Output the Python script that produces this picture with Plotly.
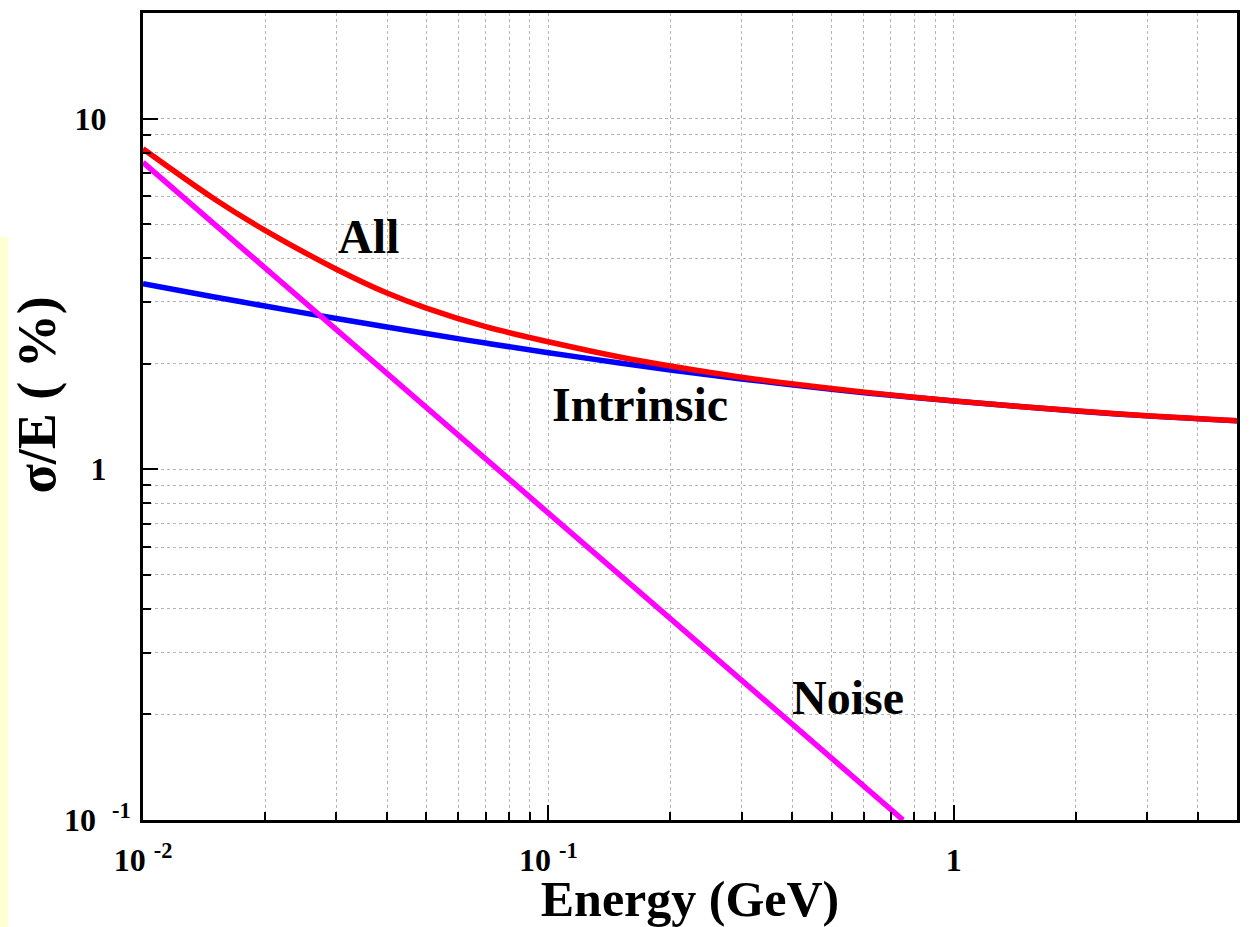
import math
import plotly.graph_objects as go

# Energy sample points (GeV)
energy = [0.01, 0.015, 0.02, 0.03, 0.04, 0.05, 0.07, 0.1, 0.15, 0.2, 0.3, 0.5, 0.7, 1.0, 2.0, 3.0, 5.0]
# sigma/E (%)
intrinsic = [3.38, 3.10, 2.92, 2.69, 2.545, 2.44, 2.29, 2.15, 2.01, 1.92, 1.81, 1.69, 1.625, 1.565, 1.467, 1.42, 1.375]
all_terms = [8.2, 5.9, 4.8, 3.72, 3.18, 2.88, 2.55, 2.31, 2.09, 1.97, 1.83, 1.70, 1.63, 1.567, 1.468, 1.421, 1.375]
noise_energy = [0.01, 0.03, 0.1, 0.3, 0.75]
noise = [7.5, 2.5, 0.75, 0.25, 0.1]

x_major = [0.01, 0.1, 1]
x_major_text = ["10&nbsp;<sup>-2</sup>", "10&nbsp;<sup>-1</sup>", "1"]
x_minor = [m * d for d in (0.01, 0.1, 1) for m in range(2, 10) if m * d <= 5]
y_major = [0.1, 1, 10]
y_major_text = ["10&nbsp;&nbsp;<sup>-1</sup>", "1&nbsp;&nbsp;&nbsp;", "10&nbsp;&nbsp;&nbsp;"]
y_minor = [m * d for d in (0.1, 1, 10) for m in range(2, 10) if m * d <= 20]

labels = ["All", "Intrinsic", "Noise"]
label_x = [0.036, 0.168, 0.55]
label_y = [4.6, 1.53, 0.224]

fig = go.Figure()
fig.add_trace(go.Scatter(x=energy, y=intrinsic, mode="lines", line=dict(color="#0000ff", width=5.5, shape="spline"), name="Intrinsic"))
fig.add_trace(go.Scatter(x=noise_energy, y=noise, mode="lines", line=dict(color="#ff00ff", width=5.5), name="Noise"))
fig.add_trace(go.Scatter(x=energy, y=all_terms, mode="lines", line=dict(color="#ff0000", width=5.5, shape="spline"), name="All"))

for t, lx, ly in zip(labels, label_x, label_y):
    fig.add_annotation(x=math.log10(lx), y=math.log10(ly), xref="x", yref="y", text=t, showarrow=False,
                       font=dict(family="Liberation Serif", size=48, color="black", weight="bold"))

# y-axis title
fig.add_annotation(x=-0.097, y=0.527, xref="paper", yref="paper", text="σ/E ( %)", textangle=-90,
                   showarrow=False, xanchor="center", yanchor="middle",
                   font=dict(family="Liberation Serif", size=54, color="black", weight="bold"))

grid = dict(showgrid=True, gridcolor="#b4b4b4", griddash="dot", gridwidth=1)
fig.update_xaxes(type="log", range=[-2, math.log10(5)], tickmode="array", tickvals=x_major, ticktext=x_major_text,
                 ticks="inside", ticklen=15, tickwidth=1.5, tickcolor="black",
                 showline=True, linecolor="black", linewidth=3, mirror=True, zeroline=False,
                 tickfont=dict(family="Liberation Serif", size=32, color="black", weight="bold"),
                 ticklabelstandoff=10,
                 minor=dict(tickmode="array", tickvals=x_minor, ticks="inside", ticklen=8, tickcolor="black", **grid),
                 title=dict(text="Energy (GeV)", font=dict(family="Liberation Serif", size=50, color="black", weight="bold"), standoff=6),
                 **grid)
fig.update_yaxes(type="log", range=[-1, math.log10(20)], tickmode="array", tickvals=y_major, ticktext=y_major_text,
                 ticks="inside", ticklen=15, tickwidth=1.5, tickcolor="black",
                 showline=True, linecolor="black", linewidth=3, mirror=True, zeroline=False,
                 tickfont=dict(family="Liberation Serif", size=32, color="black", weight="bold"),
                 ticklabelstandoff=3,
                 minor=dict(tickmode="array", tickvals=y_minor, ticks="inside", ticklen=8, tickcolor="black", **grid),
                 **grid)

fig.add_shape(type="rect", xref="paper", yref="paper", x0=-0.1307, x1=-0.1234, y0=-0.14, y1=0.7224,
              fillcolor="#ffffd4", line=dict(width=0), layer="below")

fig.update_layout(width=1253, height=927, margin=dict(l=143, r=16, t=13, b=107, autoexpand=False),
                  paper_bgcolor="white", plot_bgcolor="white", showlegend=False)

fig.write_html("out.html", config={"displayModeBar": False}, post_script="document.body.style.margin='0';")
